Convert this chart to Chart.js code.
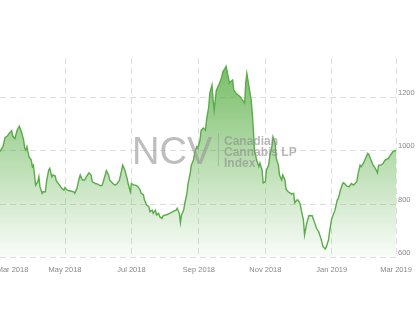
<!DOCTYPE html>
<html><head><meta charset="utf-8">
<style>html,body{margin:0;padding:0;background:#fff;overflow:hidden}#wrap{position:relative;width:420px;height:322px}</style>
<script src="https://cdn.jsdelivr.net/npm/chart.js@4.4.1/dist/chart.umd.min.js"></script>
</head><body><div id="wrap"><canvas id="c" width="420" height="322"></canvas></div>
<script>
// days since 2018-03-01
const days = [0,1,4,6,8,10,12,13,15,17,19,21,23,24,25,26,28,30,31,32,33,34,36,37,38,40,41,43,44,46,47,49,50,52,53,56,58,60,61,63,66,69,70,72,74,75,77,79,81,83,85,86,89,91,93,95,97,99,101,102,105,107,109,111,113,114,116,118,119,121,122,124,126,128,130,131,133,134,136,138,139,141,142,144,145,147,148,150,151,153,154,157,160,163,164,166,167,168,170,171,173,174,176,177,179,180,182,183,185,186,188,190,191,193,194,196,197,198,200,203,205,206,208,209,210,212,213,215,216,218,220,222,224,226,227,228,230,232,233,234,235,237,239,240,242,243,245,246,248,249,251,252,254,255,257,258,260,261,263,264,266,269,271,272,274,275,277,278,280,281,283,285,288,290,292,294,296,298,300,301,303,304,306,309,311,312,314,316,317,320,322,324,326,329,330,332,333,335,337,339,340,342,344,346,348,349,351,353,355,358,360,362,365];
const values = [985,996,1015,1050,1055,1067,1075,1055,1046,1077,1092,1071,1040,1009,1002,1015,977,965,940,946,909,871,884,902,865,840,846,846,884,927,934,902,909,905,887,871,859,852,862,852,849,846,840,859,896,909,890,890,905,917,909,884,877,875,869,869,896,925,909,890,877,871,877,890,927,946,927,896,877,846,877,871,871,865,852,840,834,815,796,790,771,777,765,777,759,765,752,746,755,759,759,765,771,777,784,765,730,759,777,802,840,877,915,946,965,990,1015,1010,1040,1077,1085,1077,1115,1165,1216,1246,1190,1152,1227,1254,1277,1296,1309,1317,1296,1254,1259,1265,1227,1216,1209,1202,1190,1179,1254,1290,1240,1190,1141,1077,1002,965,940,954,927,879,884,927,946,977,1015,1052,1028,972,946,909,890,909,890,856,846,838,840,805,815,815,800,777,740,684,727,756,756,733,709,696,671,640,631,639,665,696,746,777,815,821,852,877,880,867,865,877,871,884,909,946,940,952,971,990,987,965,946,934,917,946,946,952,965,971,984,996,1002];
const xTickDays = [12.8, 61, 122, 184, 245, 306, 365];
const xTickLabels = ['Mar 2018','May 2018','Jul 2018','Sep 2018','Nov 2018','Jan 2019','Mar 2019'];
const yTicks = [600, 800, 1000, 1200];
const wmBig = 'NCV';
const wmLines = ['Canadian', 'Cannabis LP', 'Index'];

const points = days.map((d, i) => ({x: d, y: values[i]}));
const FONT = '"Liberation Sans", Arial, sans-serif';

const watermark = {
  id: 'watermark',
  afterDatasetsDraw(chart) {
    const c = chart.ctx;
    c.save();
    c.fillStyle = 'rgba(150,150,150,0.62)';
    c.font = '38px ' + FONT;
    c.textBaseline = 'alphabetic';
    c.fillText(wmBig, 132, 163.5);
    c.strokeStyle = 'rgba(150,150,150,0.5)';
    c.lineWidth = 1;
    c.beginPath(); c.moveTo(218.5, 133); c.lineTo(218.5, 166); c.stroke();
    c.font = 'bold 12px ' + FONT;
    c.fillStyle = 'rgba(140,140,140,0.62)';
    wmLines.forEach((t, i) => c.fillText(t, 224, 144.5 + i * 11.3));
    c.restore();
  }
};

new Chart(document.getElementById('c'), {
  type: 'line',
  data: { datasets: [{
    data: points,
    borderColor: '#5aab4a',
    borderWidth: 1.4,
    pointRadius: 0,
    tension: 0,
    fill: 'start',
    backgroundColor: (ctx) => {
      const area = ctx.chart.chartArea;
      if (!area) return 'rgba(90,175,70,0.4)';
      const g = ctx.chart.ctx.createLinearGradient(0, area.top, 0, area.bottom);
      g.addColorStop(0, 'rgba(90,175,70,0.85)');
      g.addColorStop(1, 'rgba(90,175,70,0.03)');
      return g;
    }
  }]},
  options: {
    responsive: false,
    animation: false,
    devicePixelRatio: 1,
    layout: { padding: { top: 58, left: 0, right: 0, bottom: 0 } },
    plugins: { legend: { display: false }, tooltip: { enabled: false } },
    scales: {
      x: {
        type: 'linear', min: 1.3, max: 365,
        afterBuildTicks: (s) => { s.ticks = xTickDays.map(v => ({value: v})); },
        afterFit: (s) => { s.height = 64.7; s.paddingLeft = 0; s.paddingRight = 0; },
        ticks: {
          autoSkip: false, maxRotation: 0, padding: 8,
          color: '#888', font: { size: 7.5, family: FONT },
          callback: (v, i) => xTickLabels[i]
        },
        grid: { drawTicks: false, color: (c) => c.index === 0 ? 'rgba(0,0,0,0)' : '#dedede', lineWidth: 1 },
        border: { display: false, dash: [6, 4] }
      },
      y: {
        type: 'linear', position: 'right', min: 600, max: 1348,
        afterBuildTicks: (s) => { s.ticks = yTicks.map(v => ({value: v})); },
        afterFit: (s) => { s.width = 24; s.paddingTop = 0; s.paddingBottom = 0; },
        ticks: {
          padding: 2, labelOffset: -4.5,
          color: '#888', font: { size: 7.5, family: FONT },
          callback: (v) => String(v)
        },
        grid: { drawTicks: false, color: '#dedede', lineWidth: 1 },
        border: { display: false, dash: [6, 4] }
      }
    }
  },
  plugins: [watermark]
});
</script></body></html>
